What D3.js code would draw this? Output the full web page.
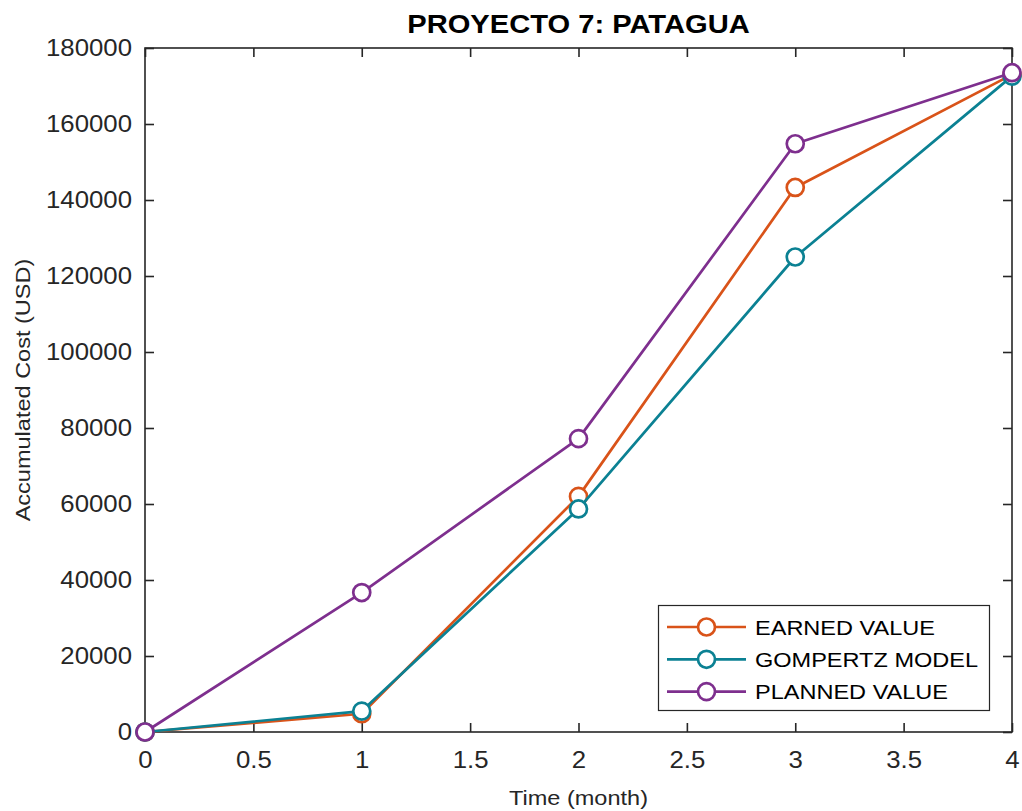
<!DOCTYPE html>
<html>
<head>
<meta charset="utf-8">
<script src="https://cdn.jsdelivr.net/npm/d3@7"></script>
<style>
  html, body { margin: 0; padding: 0; background: #fff; }
  svg { display: block; font-family: "Liberation Sans", Arial, Helvetica, sans-serif; }
</style>
</head>
<body>
<svg id="chart" width="1022" height="811"></svg>
<script>
// Time in months
const months = [0, 1, 2, 3, 4];

// Accumulated cost (USD) per series
const earnedValue = [0, 4800, 62000, 143300, 173000];
const gompertzModel = [0, 5500, 58700, 125000, 172600];
const plannedValue = [0, 36700, 77200, 154800, 173500];

const seriesNames = ["EARNED VALUE", "GOMPERTZ MODEL", "PLANNED VALUE"];
const seriesColors = ["#D95319", "#0B8193", "#7E2F8E"];

const xTicks = [0, 0.5, 1, 1.5, 2, 2.5, 3, 3.5, 4];
const yTicks = [0, 20000, 40000, 60000, 80000, 100000, 120000, 140000, 160000, 180000];

const svg = d3.select("#chart");
const box = { left: 145, right: 1012, top: 48, bottom: 732 };
const ink = "#262626";

const x = d3.scaleLinear().domain([0, 4]).range([box.left, box.right]);
const y = d3.scaleLinear().domain([0, 180000]).range([box.bottom, box.top]);

// Axis box
const axes = svg.append("g");
axes.append("rect")
  .attr("x", box.left).attr("y", box.top)
  .attr("width", box.right - box.left).attr("height", box.bottom - box.top)
  .attr("fill", "none").attr("stroke", ink).attr("stroke-width", 1.6);

// Inward ticks on all four sides (mirrored like a boxed plot)
const tickLen = 9;
const xAxisB = d3.axisBottom(x).tickValues(xTicks).tickSizeInner(-tickLen).tickSizeOuter(0)
  .tickPadding(20).tickFormat(d3.format("~g"));
const xAxisT = d3.axisTop(x).tickValues(xTicks).tickSizeInner(-tickLen).tickSizeOuter(0).tickFormat("");
const yAxisL = d3.axisLeft(y).tickValues(yTicks).tickSizeInner(-tickLen).tickSizeOuter(0)
  .tickPadding(13).tickFormat(d3.format("d"));
const yAxisR = d3.axisRight(y).tickValues(yTicks).tickSizeInner(-tickLen).tickSizeOuter(0).tickFormat("");

function style(g) {
  g.select(".domain").remove();
  g.selectAll(".tick line").attr("stroke", ink).attr("stroke-width", 1.6);
  g.selectAll(".tick text").attr("fill", ink).attr("font-size", 23)
    .attr("font-family", "Liberation Sans, Arial, sans-serif");
}
axes.append("g").attr("transform", `translate(0,${box.bottom})`).call(xAxisB).call(style);
axes.append("g").attr("transform", `translate(0,${box.top})`).call(xAxisT).call(style);
axes.append("g").attr("transform", `translate(${box.left},0)`).call(yAxisL).call(style);
axes.append("g").attr("transform", `translate(${box.right},0)`).call(yAxisR).call(style);

// Series lines and circle markers
const allSeries = [earnedValue, gompertzModel, plannedValue];
const line = d3.line().x((d, i) => x(months[i])).y(d => y(d));

allSeries.forEach((vals, k) => {
  const g = svg.append("g");
  g.append("path").datum(vals)
    .attr("d", line).attr("fill", "none")
    .attr("stroke", seriesColors[k]).attr("stroke-width", 2.7)
    .attr("stroke-linejoin", "round");
  g.selectAll("circle").data(vals).join("circle")
    .attr("cx", (d, i) => x(months[i])).attr("cy", d => y(d))
    .attr("r", 8.5).attr("fill", "#fff")
    .attr("stroke", seriesColors[k]).attr("stroke-width", 2.7);
});

// Title and axis labels
svg.append("text").attr("x", (box.left + box.right) / 2).attr("y", 33)
  .attr("text-anchor", "middle").attr("font-weight", "bold").attr("font-size", 26)
  .attr("fill", "#000").text("PROYECTO 7: PATAGUA");

svg.append("text").attr("x", (box.left + box.right) / 2).attr("y", 805)
  .attr("text-anchor", "middle").attr("font-size", 21).attr("fill", ink)
  .text("Time (month)");

svg.append("text")
  .attr("transform", `translate(30,${(box.top + box.bottom) / 2}) rotate(-90)`)
  .attr("text-anchor", "middle").attr("font-size", 21).attr("fill", ink)
  .text("Accumulated Cost (USD)");

// Legend
const lg = svg.append("g");
lg.append("rect").attr("x", 658.5).attr("y", 605.5).attr("width", 331).attr("height", 105)
  .attr("fill", "#fff").attr("stroke", ink).attr("stroke-width", 1.2);
seriesNames.forEach((name, k) => {
  const cy = 627 + k * 32.3;
  lg.append("line").attr("x1", 667).attr("x2", 746).attr("y1", cy).attr("y2", cy)
    .attr("stroke", seriesColors[k]).attr("stroke-width", 2.7);
  lg.append("circle").attr("cx", 706.5).attr("cy", cy).attr("r", 8.5)
    .attr("fill", "#fff").attr("stroke", seriesColors[k]).attr("stroke-width", 2.7);
  lg.append("text").attr("x", 755).attr("y", cy).attr("dy", "0.36em")
    .attr("font-size", 21).attr("fill", "#000").text(name);
});

// The typeface is set slightly wide: widen every label by the same factor
svg.selectAll("text").each(function () {
  const len = this.getComputedTextLength();
  if (len > 0) {
    d3.select(this).attr("textLength", len * 1.12).attr("lengthAdjust", "spacingAndGlyphs");
  }
});
</script>
</body>
</html>
